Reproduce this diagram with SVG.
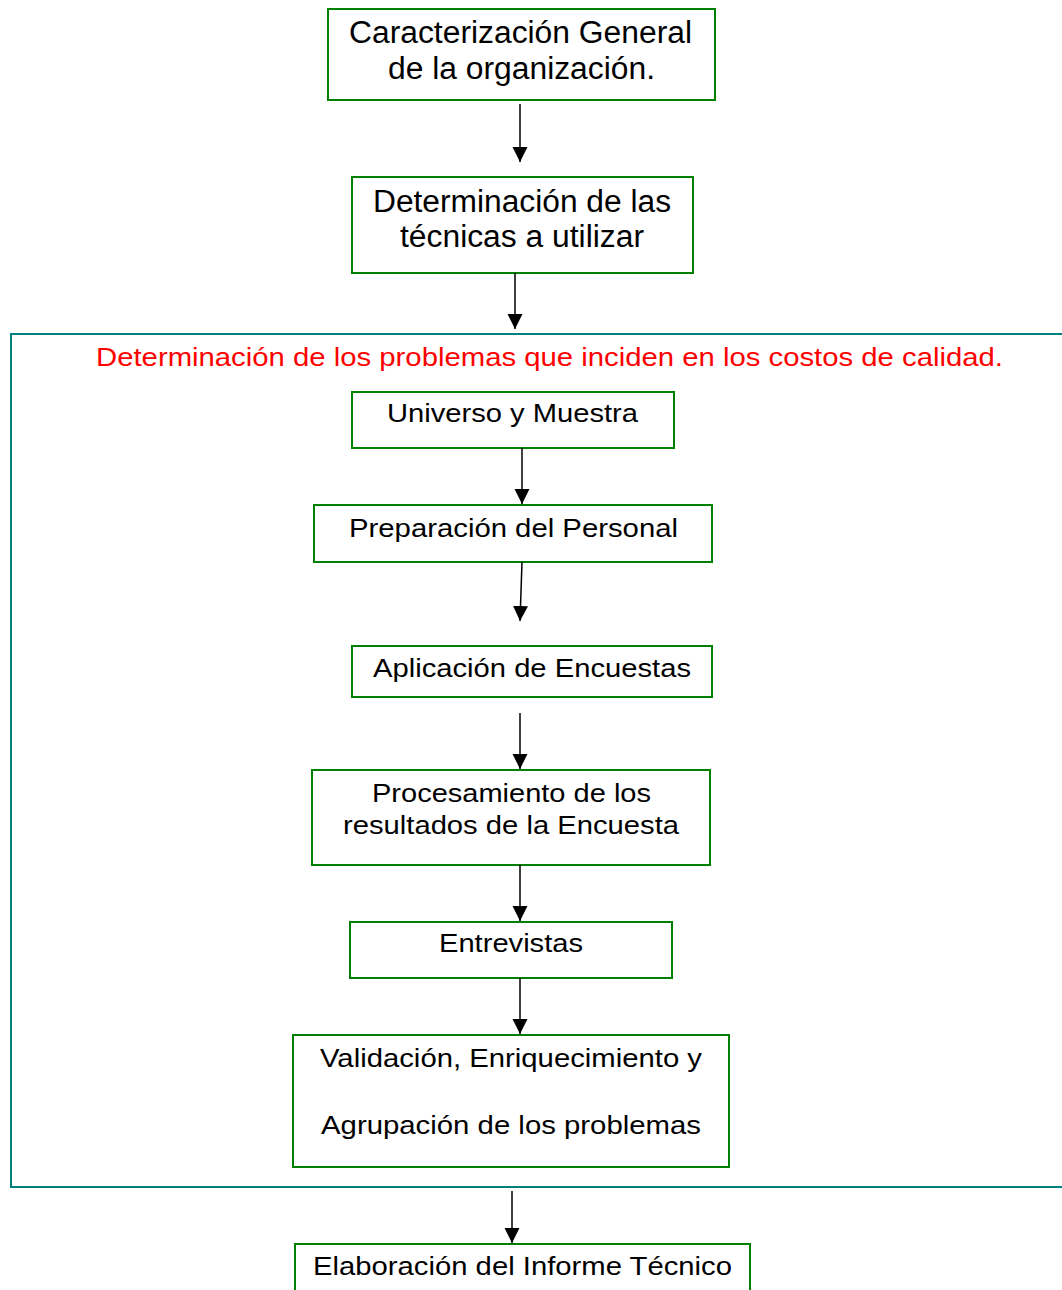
<svg xmlns="http://www.w3.org/2000/svg" width="1062" height="1290" viewBox="0 0 1062 1290">
<style>
.box{fill:#ffffff;stroke:#008000;stroke-width:2}
.t{font-family:"Liberation Sans",Arial,sans-serif;fill:#000000;font-size:26px}
.big{font-size:31px}
.red{font-family:"Liberation Sans",Arial,sans-serif;fill:#ff0000;font-size:25px}
.arr{stroke:#000000;stroke-width:1.5;fill:none;marker-end:url(#ah)}
</style>
<defs>
<marker id="ah" markerUnits="userSpaceOnUse" markerWidth="16" markerHeight="16" viewBox="0 0 16 16" refX="15" refY="8" orient="auto">
<path d="M0,0.5 L15,8 L0,15.5 Z" fill="#000000"/>
</marker>
</defs>
<rect width="1062" height="1290" fill="#ffffff"/>
<g id="container">
<rect x="11" y="334" width="1070" height="853" fill="none" stroke="#008080" stroke-width="2"/>
<text class="red" x="96" y="366" textLength="907" lengthAdjust="spacingAndGlyphs">Determinación de los problemas que inciden en los costos de calidad.</text>
</g>
<g id="n1">
<rect class="box" x="328" y="9" width="387" height="91"/>
<text class="t big" x="349" y="43" textLength="343" lengthAdjust="spacingAndGlyphs">Caracterización General</text>
<text class="t big" x="388" y="79" textLength="267" lengthAdjust="spacingAndGlyphs">de la organización.</text>
</g>
<g id="n2">
<rect class="box" x="352" y="177" width="341" height="96"/>
<text class="t big" x="373" y="212" textLength="298" lengthAdjust="spacingAndGlyphs">Determinación de las</text>
<text class="t big" x="400" y="247" textLength="244" lengthAdjust="spacingAndGlyphs">técnicas a utilizar</text>
</g>
<g id="n3">
<rect class="box" x="352" y="392" width="322" height="56"/>
<text class="t" x="387" y="422" textLength="251" lengthAdjust="spacingAndGlyphs">Universo y Muestra</text>
</g>
<g id="n4">
<rect class="box" x="314" y="505" width="398" height="57"/>
<text class="t" x="349" y="537" textLength="329" lengthAdjust="spacingAndGlyphs">Preparación del Personal</text>
</g>
<g id="n5">
<rect class="box" x="352" y="646" width="360" height="51"/>
<text class="t" x="373" y="677" textLength="318" lengthAdjust="spacingAndGlyphs">Aplicación de Encuestas</text>
</g>
<g id="n6">
<rect class="box" x="312" y="770" width="398" height="95"/>
<text class="t" x="372" y="802" textLength="279" lengthAdjust="spacingAndGlyphs">Procesamiento de los</text>
<text class="t" x="343" y="834" textLength="336" lengthAdjust="spacingAndGlyphs">resultados de la Encuesta</text>
</g>
<g id="n7">
<rect class="box" x="350" y="922" width="322" height="56"/>
<text class="t" x="439" y="952" textLength="144" lengthAdjust="spacingAndGlyphs">Entrevistas</text>
</g>
<g id="n8">
<rect class="box" x="293" y="1035" width="436" height="132"/>
<text class="t" x="320" y="1067" textLength="382" lengthAdjust="spacingAndGlyphs">Validación, Enriquecimiento y</text>
<text class="t" x="321" y="1134" textLength="380" lengthAdjust="spacingAndGlyphs">Agrupación de los problemas</text>
</g>
<g id="n9">
<rect class="box" x="295" y="1244" width="455" height="60"/>
<text class="t" x="313" y="1275" textLength="419" lengthAdjust="spacingAndGlyphs">Elaboración del Informe Técnico</text>
</g>
<g id="connectors">
<line class="arr" x1="520" y1="104" x2="520" y2="162"/>
<line class="arr" x1="515" y1="273" x2="515" y2="329"/>
<line class="arr" x1="522" y1="448" x2="522" y2="504"/>
<line class="arr" x1="522" y1="562" x2="520" y2="621"/>
<line class="arr" x1="520" y1="713" x2="520" y2="769"/>
<line class="arr" x1="520" y1="865" x2="520" y2="921"/>
<line class="arr" x1="520" y1="978" x2="520" y2="1034"/>
<line class="arr" x1="512" y1="1191" x2="512" y2="1243"/>
</g>
</svg>
